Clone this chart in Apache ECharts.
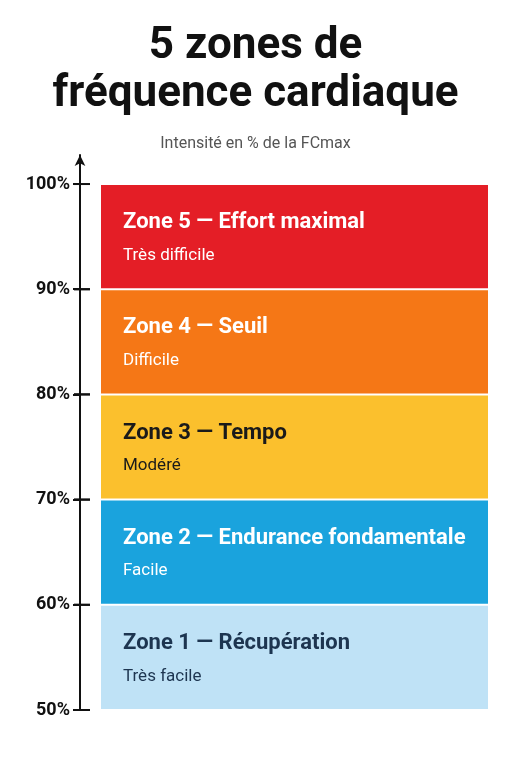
<!DOCTYPE html><html><head><meta charset="utf-8">
<script src="https://cdn.jsdelivr.net/npm/echarts@6/dist/echarts.min.js"></script>
<style>html,body{margin:0;background:#fff}#c{width:511px;height:768px}</style></head><body><div id="c"></div>
<script>
const zoneNames=['Zone 1 — Récupération','Zone 2 — Endurance fondamentale','Zone 3 — Tempo','Zone 4 — Seuil','Zone 5 — Effort maximal'];
const zoneDesc=['Très facile','Facile','Modéré','Difficile','Très difficile'];
const zoneLow=[50,60,70,80,90];
const zoneHigh=[60,70,80,90,100];
const tickValues=[50,60,70,80,90,100];
const colors=['#bfe2f6','#1aa3dd','#fbc02d','#f57716','#e41e26'];
const textColors=['#1d3550','#ffffff','#1a1a1a','#ffffff','#ffffff'];
const F='"Liberation Sans Narrow","Roboto","DejaVu Sans Condensed",sans-serif';
const data=zoneLow.map((l,i)=>[l,zoneHigh[i],i]);
const chart=echarts.init(document.getElementById('c'));
chart.setOption({
 title:[{text:'5 zones de\nfréquence cardiaque',left:'center',top:18,textStyle:{fontFamily:'Roboto,sans-serif',fontWeight:'bold',fontSize:44,lineHeight:48,color:'#111'}},
 {text:'Intensité en % de la FCmax',left:'center',top:131,textStyle:{fontFamily:F,fontWeight:'normal',fontSize:16,color:'#555'}}],
 grid:{left:80,right:23,top:155,bottom:58},
 xAxis:{type:'value',min:0,max:1,show:false},
 yAxis:{type:'value',min:50,max:102.76,
  axisLine:{show:true,symbol:['none','arrow'],symbolSize:[8,11],lineStyle:{color:'#111',width:2}},
  axisTick:{show:true,customValues:tickValues,length:7,lineStyle:{color:'#111',width:2}},
  axisLabel:{customValues:tickValues,formatter:'{value}%',fontFamily:F,fontWeight:'bold',fontSize:18,color:'#111',margin:10},
  splitLine:{show:false}},
 series:[{type:'custom',data:data,encode:{y:[0,1]},
  renderItem:function(p,api){
   const lo=api.coord([0,api.value(0)]),hi=api.coord([0,api.value(1)]);const i=api.value(2);
   const cs=p.coordSys;const x0=cs.x+21,w=cs.width-21;
   const top=hi[1]+1,h=lo[1]-hi[1]-2;
   return {type:'group',children:[
    {type:'rect',shape:{x:x0,y:top,width:w,height:h},style:{fill:colors[i]}},
    {type:'line',shape:{x1:cs.x-6,y1:lo[1],x2:cs.x+10,y2:lo[1]},style:{stroke:'#111',lineWidth:2}},
    {type:'line',shape:{x1:cs.x-6,y1:hi[1],x2:cs.x+10,y2:hi[1]},style:{stroke:'#111',lineWidth:2}},
    {type:'text',x:x0+22,y:top+h/2-14,style:{text:zoneNames[i],fill:textColors[i],font:'bold 22px '+F,verticalAlign:'middle'}},
    {type:'text',x:x0+22,y:top+h/2+19,style:{text:zoneDesc[i],fill:textColors[i],font:'17px '+F,verticalAlign:'middle'}}
   ]};
  }}]
});
</script></body></html>
